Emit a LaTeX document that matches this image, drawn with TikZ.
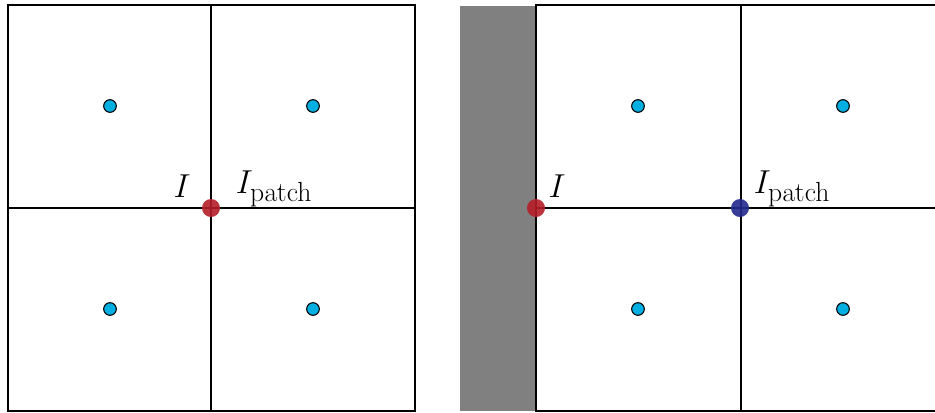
\documentclass[tikz,border=0pt]{standalone}
\begin{document}
\definecolor{dotcyan}{RGB}{0,175,225}
\definecolor{dotred}{RGB}{180,30,40}
\definecolor{dotblue}{RGB}{35,40,140}
\begin{tikzpicture}[x=0.75pt,y=-0.75pt,
  grid/.style={line width=1.3pt,black},
  cell/.style={circle,draw=black,line width=0.8pt,fill=dotcyan,minimum size=9.5pt,inner sep=0pt},
  redpt/.style={circle,fill=dotred,fill opacity=0.9,minimum size=13.5pt,inner sep=0pt},
  bluept/.style={circle,fill=dotblue,fill opacity=0.9,minimum size=13.5pt,inner sep=0pt},
  lab/.style={font=\fontsize{30}{36}\selectfont,inner sep=0pt}]
\useasboundingbox (0,0) rectangle (935,412);
\clip (0,0) rectangle (935,412);
% left panel
\draw[grid] (8,5) rectangle (415,411);
\draw[grid] (211,5) -- (211,411);
\draw[grid] (8,208) -- (415,208);
\node[cell] (l1) at (110,106) {};
\node[cell] (l2) at (313,106) {};
\node[cell] (l3) at (110,309) {};
\node[cell] (l4) at (313,309) {};
\node[redpt] (lI) at (211,208) {};
\node[lab] (lIl) at (182,186) {$I$};
\node[lab] (lIp) at (274,189) {$I_{\mathrm{patch}}$};
% right panel
\fill[black!50] (460,6) rectangle (536,411);
\draw[grid] (536,5) rectangle (946,411);
\draw[grid] (741,5) -- (741,411);
\draw[grid] (536,208) -- (946,208);
\node[cell] (r1) at (638,106) {};
\node[cell] (r2) at (843,106) {};
\node[cell] (r3) at (638,309) {};
\node[cell] (r4) at (843,309) {};
\node[redpt] (rI) at (536,208) {};
\node[bluept] (rP) at (740,208) {};
\node[lab] (rIl) at (557,186) {$I$};
\node[lab] (rIp) at (792,189) {$I_{\mathrm{patch}}$};
\end{tikzpicture}
\end{document}
